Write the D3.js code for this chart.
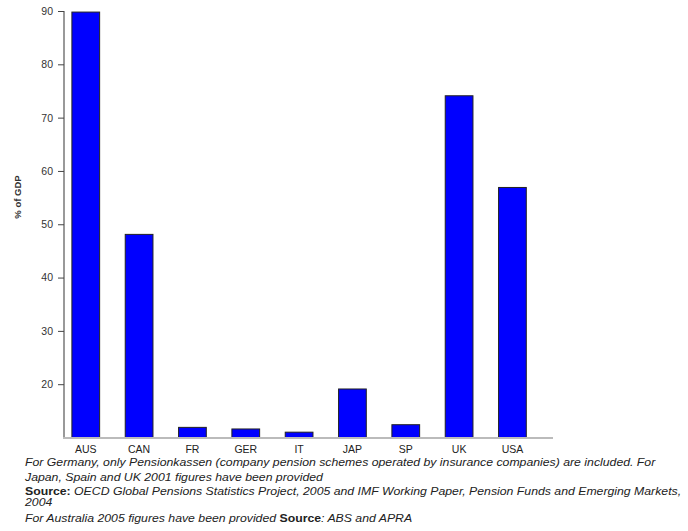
<!DOCTYPE html>
<html><head><meta charset="utf-8">
<script src="https://cdn.jsdelivr.net/npm/d3@7"></script>
<style>
html,body{margin:0;padding:0;background:#fff;}
svg{display:block;font-family:"Liberation Sans",Arial,sans-serif;}
</style></head>
<body>
<svg id="c" width="688" height="531"></svg>
<script>
const categories = ["AUS","CAN","FR","GER","IT","JAP","SP","UK","USA"];
const values = [89.8, 48.1, 11.9, 11.6, 11.0, 19.1, 12.4, 74.1, 56.9];
const yTicks = [20,30,40,50,60,70,80,90];
const yTitle = "% of GDP";
const notes = [
  [{t:"For Germany, only Pensionkassen (company pension schemes operated by insurance companies) are included.  For", b:false}],
  [{t:"Japan, Spain and UK 2001 figures have been provided", b:false}],
  [{t:"Source:", b:true},{t:" OECD Global Pensions Statistics Project, 2005 and IMF Working Paper, Pension Funds and Emerging Markets,", b:false}],
  [{t:"2004", b:false}],
  [{t:"For Australia 2005 figures have been provided ", b:false},{t:"Source", b:true},{t:": ABS and APRA", b:false}]
];

const svg = d3.select("#c");
const x = d3.scaleBand().domain(categories).range([59.1, 539.1]).paddingInner(0.48).paddingOuter(0.24);
const y = d3.scaleLinear().domain([10, 90]).range([437.5, 11]);

// bars
svg.append("g").selectAll("rect").data(values).join("rect")
  .attr("x", (d,i) => x(categories[i]))
  .attr("width", x.bandwidth())
  .attr("y", d => y(d))
  .attr("height", d => y(10) - y(d))
  .attr("fill", "#0000ff")
  .attr("stroke", "#222")
  .attr("stroke-width", 1);

// axes lines
svg.append("line").attr("x1",64).attr("x2",64).attr("y1",y(90)).attr("y2",y(10)+1)
  .attr("stroke","#999").attr("stroke-width",2);
svg.append("line").attr("x1",63).attr("x2",553).attr("y1",y(10)+0.5).attr("y2",y(10)+0.5)
  .attr("stroke","#bbb").attr("stroke-width",2);

// y axis ticks and labels
const yAxis = d3.axisLeft(y).tickValues(yTicks).tickSize(6).tickPadding(5).tickFormat(d3.format("d"));
const ga = svg.append("g").attr("transform","translate(64,0)").call(yAxis);
ga.select(".domain").remove();
ga.selectAll(".tick line").attr("stroke","#444");
ga.selectAll(".tick text").attr("fill","#333").style("font-size","10.5px").style("font-family","'Liberation Sans',Arial,sans-serif");

// x labels
const gx = svg.append("g").attr("transform",`translate(0,${y(10)})`).call(d3.axisBottom(x).tickSize(0).tickPadding(8));
gx.select(".domain").remove();
gx.selectAll(".tick text").attr("fill","#222").style("font-size","10.5px").style("font-family","'Liberation Sans',Arial,sans-serif");

// y title
svg.append("text").attr("transform","translate(21,197) rotate(-90)")
  .attr("text-anchor","middle").attr("font-size","9.5px").attr("font-weight","bold").attr("fill","#333")
  .text(yTitle);

// footnotes
const baselines = [466.5, 481, 495, 506, 522];
const fn = svg.append("g").attr("transform","translate(25,0) scale(1.17,1) translate(-25,0)");
notes.forEach((parts, i) => {
  const t = fn.append("text").attr("x", 25).attr("y", baselines[i]).attr("font-size","10.5px").attr("fill","#222");
  parts.forEach(p => {
    t.append("tspan").text(p.t)
      .attr("font-style", p.b ? "normal" : "italic")
      .attr("font-weight", p.b ? "bold" : "normal");
  });
});
</script>
</body></html>
